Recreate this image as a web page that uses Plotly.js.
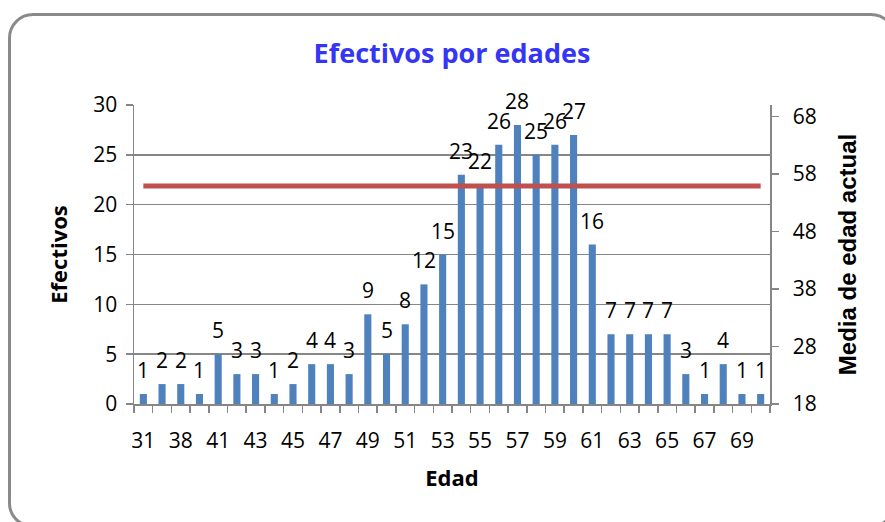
<!DOCTYPE html>
<html>
<head>
<meta charset="utf-8">
<script src="https://cdn.plot.ly/plotly-3.0.1.min.js"></script>
<style>
  html, body { margin: 0; padding: 0; background: #ffffff; overflow: hidden; }
  #frame { position: absolute; left: 8px; top: 13px; width: 888px; height: 515px;
           border: 3px solid #8a8a8a; border-radius: 25px; box-sizing: border-box; }
  #chart { position: absolute; left: 0; top: 0; width: 885px; height: 522px; }
</style>
</head>
<body>
<div id="frame"></div>
<div id="chart"></div>
<script>
// Ages (categories) and number of people per age
const ages = ["31", "36", "38", "40", "41", "42", "43", "44", "45", "46", "47", "48", "49", "50", "51", "52", "53",
              "54", "55", "56", "57", "58", "59", "60", "61", "62", "63", "64", "65", "66", "67", "68", "69", "70"];
const counts = [1, 2, 2, 1, 5, 3, 3, 1, 2, 4, 4, 3, 9, 5, 8, 12, 15,
                23, 22, 26, 28, 25, 26, 27, 16, 7, 7, 7, 7, 3, 1, 4, 1, 1];
// Current mean age (right axis)
const meanAge = 55.9;
const leftTicks = [0, 5, 10, 15, 20, 25, 30];
const rightTicks = [18, 28, 38, 48, 58, 68];

const idx = ages.map((a, i) => i);
const labelIdx = idx.filter(i => i % 2 === 0);
const labelText = labelIdx.map(i => ages[i]);
const meanSeries = ages.map(() => meanAge);

const FONT = "'Open Sans', Lato, sans-serif";
const ARIAL = "'Liberation Sans', Arial, sans-serif";

const traces = [
  {
    type: "bar", x: idx, y: counts, marker: { color: "#4F81BD" },
    hoverinfo: "x+y", showlegend: false
  },
  {
    type: "scatter", mode: "lines", x: idx, y: meanSeries, yaxis: "y2",
    line: { color: "#C0504D", width: 5 }, showlegend: false
  }
];

const annotations = idx.map(i => ({
  x: i, y: counts[i], xref: "x", yref: "y", text: String(counts[i]),
  showarrow: false, yanchor: "bottom", yshift: 8,
  font: { family: FONT, size: 21, color: "#000000" }
}));

const layout = {
  width: 885, height: 522,
  paper_bgcolor: "rgba(0,0,0,0)", plot_bgcolor: "#ffffff",
  margin: { l: 134, r: 115, t: 105, b: 118 },
  bargap: 0.62,
  title: { text: "<b>Efectivos por edades</b>", x: 452 / 885, xanchor: "center", y: 1 - 54 / 522, yanchor: "middle",
           font: { family: FONT, size: 27, color: "#3535F5" } },
  xaxis: {
    type: "linear", range: [-0.5, ages.length - 0.5],
    tickmode: "array", tickvals: labelIdx, ticktext: labelText, ticks: "",
    ticklabelstandoff: 17,
    minor: { ticks: "outside", tick0: -0.5, dtick: 1, ticklen: 7, tickwidth: 1.5, tickcolor: "#868686", showgrid: false },
    showline: true, linecolor: "#868686", linewidth: 1.5, showgrid: false, zeroline: false,
    tickfont: { family: FONT, size: 21, color: "#000000" },
    title: { text: "<b>Edad</b>", font: { family: FONT, size: 22, color: "#000000" }, standoff: 18 }
  },
  yaxis: {
    range: [0, 30], tickmode: "array", tickvals: leftTicks,
    ticks: "outside", ticklen: 7, tickwidth: 1.5, tickcolor: "#868686",
    ticklabelstandoff: 4,
    showline: true, linecolor: "#868686", linewidth: 1.5,
    showgrid: true, gridcolor: "#868686", gridwidth: 1.5, zeroline: false,
    tickfont: { family: FONT, size: 21, color: "#000000" },
    title: { text: "<b>Efectivos</b>", font: { family: FONT, size: 22, color: "#000000" }, standoff: 19 }
  },
  yaxis2: {
    overlaying: "y", side: "right", range: [18, 70], tickmode: "array", tickvals: rightTicks,
    ticks: "outside", ticklen: 7, tickwidth: 1.5, tickcolor: "#868686",
    ticklabelstandoff: 10,
    showline: true, linecolor: "#868686", linewidth: 1.5, showgrid: false, zeroline: false,
    tickfont: { family: FONT, size: 21, color: "#000000" },
    title: { text: "<b>Media de edad actual</b>", font: { family: ARIAL, size: 24, color: "#000000" }, standoff: 23 }
  },
  annotations: annotations
};

Plotly.newPlot("chart", traces, layout, { displayModeBar: false, staticPlot: true });
</script>
</body>
</html>
